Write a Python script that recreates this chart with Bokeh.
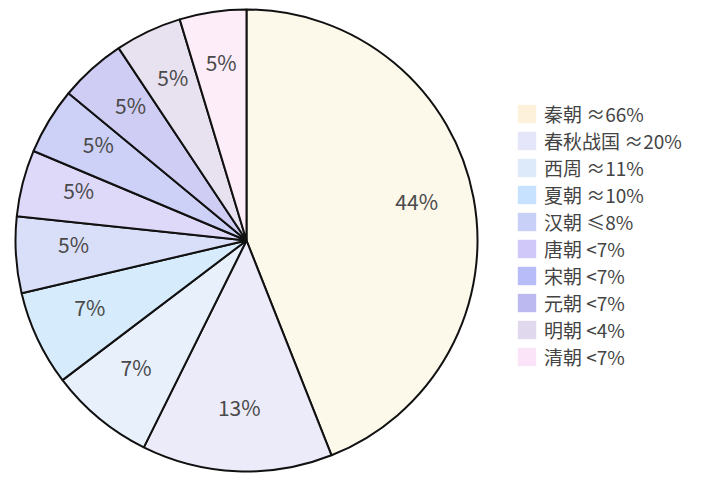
import math
from bokeh.plotting import figure
from bokeh.models import ColumnDataSource, Legend, LegendItem, Range1d
from bokeh.core.properties import value
from bokeh.embed import file_html
from bokeh.resources import INLINE

# Data
dynasties = ["秦朝", "春秋战国", "西周", "夏朝", "汉朝", "唐朝", "宋朝", "元朝", "明朝", "清朝"]
legend_labels = ["秦朝 ≈66%", "春秋战国 ≈20%", "西周 ≈11%", "夏朝 ≈10%", "汉朝 ≤8%",
                 "唐朝 <7%", "宋朝 <7%", "元朝 <7%", "明朝 <4%", "清朝 <7%"]
values = [66, 20, 11, 10, 8, 7, 7, 7, 7, 7]
legend_colors = ["#FDF1DC", "#E6E6FA", "#DCEAFA", "#C6E2FF", "#C8D0F8",
                 "#D0C8F8", "#B8BCF8", "#BCB8F0", "#E0D8EC", "#FCE4F8"]
slice_colors = ["#FCF8EA", "#ECEBF9", "#E8F0FC", "#D6EBFB", "#DADFF9",
                "#DED8F9", "#CDD0F7", "#D0CDF4", "#E8E2F0", "#FCEDF9"]

W, H = 704, 474
cx, cy, R = 246, 234, 231

total = sum(values)
starts, ends, lx, ly, texts = [], [], [], [], []
cum = 0.0
for v in values:
    a0 = math.pi / 2 - cum / total * 2 * math.pi
    cum += v
    a1 = math.pi / 2 - cum / total * 2 * math.pi
    starts.append(a0)
    ends.append(a1)
    mid = (a0 + a1) / 2
    lx.append(cx + 0.75 * R * math.cos(mid))
    ly.append(cy + 0.75 * R * math.sin(mid) + 7)
    texts.append(f"{round(v / total * 100)}%")

src = ColumnDataSource(dict(start=starts, end=ends, color=slice_colors,
                            x=[cx] * len(values), y=[cy] * len(values)))
lsrc = ColumnDataSource(dict(x=lx, y=ly, t=texts))

p = figure(width=W, height=H, output_backend="svg", toolbar_location=None,
           x_range=Range1d(0, W), y_range=Range1d(0, H), min_border=0)
p.axis.visible = False
p.grid.visible = False
p.outline_line_color = None
p.background_fill_color = "white"

p.wedge(x="x", y="y", radius=R, radius_units="data", start_angle="start", end_angle="end",
        direction="clock", fill_color="color", line_color="#111111", line_width=2, source=src)
p.text(x="x", y="y", text="t", source=lsrc, text_align="center", text_baseline="middle",
       text_font=value("Noto Sans CJK SC"), text_font_size="21px", text_color="#4a4a4a")

items = []
for lab, col in zip(legend_labels, legend_colors):
    r = p.rect(x=[-100], y=[-100], width=1, height=1, fill_color=col, line_color=None)
    items.append(LegendItem(label=lab, renderers=[r]))

legend = Legend(items=items, location=(515, 104), padding=0, margin=0, spacing=0,
                glyph_width=23, glyph_height=23, label_height=23, label_standoff=6,
                label_text_font="Noto Sans CJK SC", label_text_font_size="19px",
                label_text_color="#444444", border_line_alpha=0, background_fill_alpha=0)
p.add_layout(legend, "center")

open("out.html", "w").write(file_html(p, INLINE))
